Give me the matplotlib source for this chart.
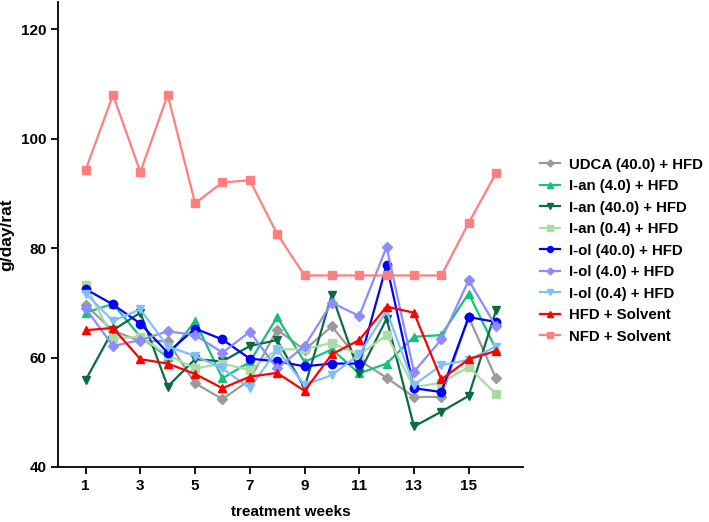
import matplotlib
matplotlib.use("Agg")
import matplotlib.pyplot as plt
import numpy as np

plt.rcParams['font.family'] = ['Liberation Sans', 'DejaVu Sans']
plt.rcParams['font.weight'] = 'bold'

weeks = np.arange(1, 17)

# weekly food intake, g/day/rat
udca_40 = [69.6, 64.9, 63.0, 63.0, 55.3, 52.4, 55.9, 65.1, 61.4, 65.7, 59.5, 56.3, 52.8, 52.8, 67.4, 56.2]
ian_4 = [68.2, 69.8, 63.8, 60.1, 66.7, 56.2, 59.2, 67.4, 59.2, 61.5, 57.1, 58.9, 63.8, 64.1, 71.7, 61.5]
ian_40 = [55.9, 65.0, 68.2, 54.7, 59.7, 59.3, 62.1, 63.2, 54.5, 71.5, 57.1, 67.1, 47.4, 50.1, 53.0, 68.6]
ian_04 = [73.2, 63.5, 63.8, 60.5, 58.0, 58.9, 57.7, 61.5, 61.5, 62.7, 60.5, 64.1, 54.6, 55.4, 58.3, 53.3]
iol_40 = [72.5, 69.7, 66.2, 60.9, 65.3, 63.3, 59.8, 59.3, 58.4, 58.9, 58.9, 76.9, 54.4, 53.7, 67.4, 66.5]
iol_4 = [69.0, 62.1, 63.2, 64.8, 64.1, 60.9, 64.7, 58.0, 62.1, 70.0, 67.6, 80.2, 57.4, 63.3, 74.1, 65.7]
iol_04 = [71.7, 66.7, 68.8, 62.0, 60.3, 58.0, 54.4, 61.4, 55.0, 56.8, 60.6, 68.5, 55.0, 58.6, 59.6, 62.0]
hfd_solvent = [65.0, 65.4, 59.7, 58.9, 57.0, 54.4, 56.5, 57.2, 53.9, 60.6, 63.2, 69.3, 68.2, 56.0, 59.7, 61.2]
nfd_solvent = [94.3, 108.0, 93.9, 108.0, 88.2, 92.0, 92.4, 82.6, 75.0, 75.0, 75.0, 75.0, 75.0, 75.0, 84.6, 93.7]

series = [
    ("UDCA (40.0) + HFD", udca_40, "#9a9a9a", "D", 5),
    ("I-an (4.0) + HFD", ian_4, "#19bf7c", "^", 6),
    ("I-an (40.0) + HFD", ian_40, "#0b6b45", "v", 6),
    ("I-an (0.4) + HFD", ian_04, "#a9dca5", "s", 6),
    ("I-ol (40.0) + HFD", iol_40, "#0000ff", "o", 6),
    ("I-ol (4.0) + HFD", iol_4, "#8c8cff", "D", 5),
    ("I-ol (0.4) + HFD", iol_04, "#80bfff", "v", 6),
    ("HFD + Solvent", hfd_solvent, "#ff0000", "^", 6),
    ("NFD + Solvent", nfd_solvent, "#ff7f7f", "s", 6),
]

fig = plt.figure(figsize=(7.09, 5.22), dpi=100)
ax = fig.add_axes([0.0822, 0.1054, 0.656, 0.891])

for name, vals, col, mk, ms in series:
    ax.plot(weeks, vals, color=col, marker=mk, markersize=ms, lw=1.6, label=name)

ax.set_xlim(0, 17)
ax.set_ylim(40, 125)
ax.set_xticks(np.arange(1, 16, 2))
ax.set_yticks(np.arange(40, 121, 20))
for s in ["top", "right"]:
    ax.spines[s].set_visible(False)
for s in ["left", "bottom"]:
    ax.spines[s].set_linewidth(1.3)
ax.tick_params(direction="out", length=5, width=1.3, labelsize=11)
ax.set_xlabel("treatment weeks", fontsize=11, fontweight="bold", labelpad=9)
ax.set_ylabel("g/day/rat", fontsize=12.5, fontweight="bold", labelpad=5)

leg = ax.legend(loc="center left", bbox_to_anchor=(1.035, 0.465), frameon=False,
                fontsize=10.8, handlelength=1.35, handletextpad=0.6, labelspacing=0.5,
                markerscale=0.7, borderaxespad=0, borderpad=0)

fig.savefig("out.png", dpi=100)
